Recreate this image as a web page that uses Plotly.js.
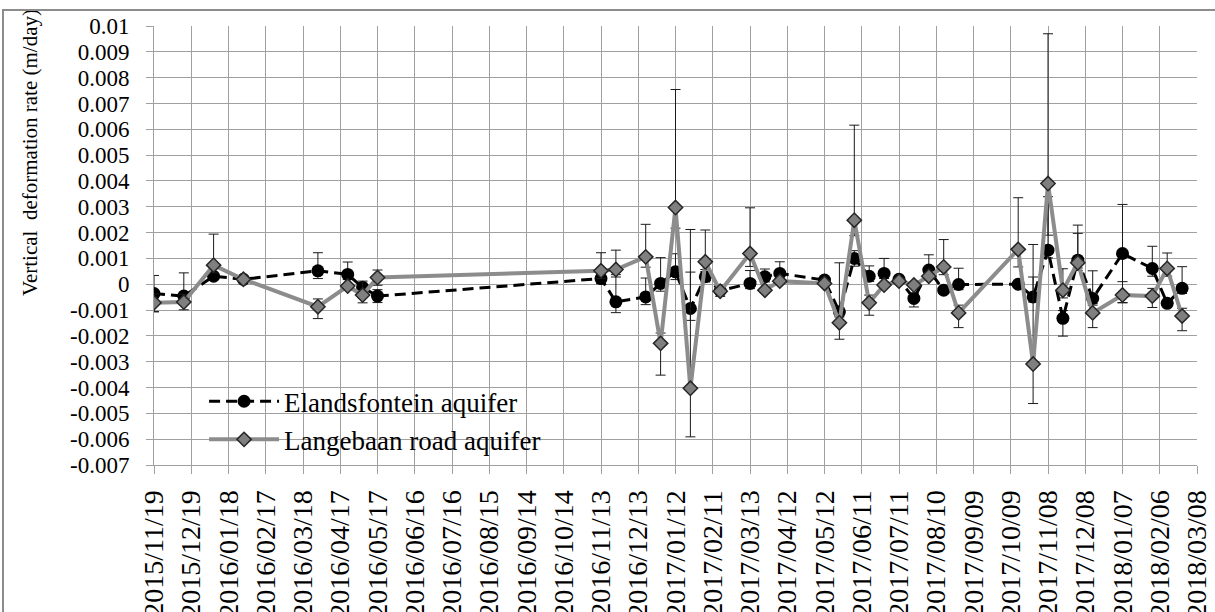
<!DOCTYPE html>
<html>
<head>
<meta charset="utf-8">
<script src="https://cdn.plot.ly/plotly-3.0.1.min.js"></script>
<style>
  html, body { margin: 0; padding: 0; background: #fff; overflow: hidden; }
  #chart { width: 1215px; height: 612px; }
  #frame { position: absolute; left: 2px; top: 9px; width: 1230px; height: 700px;
           border: 2px solid #8c8c8c; pointer-events: none; box-sizing: border-box; }
</style>
</head>
<body>
<div id="chart"></div>
<div id="frame"></div>
<script>
const dates = [
  '2015-11-19','2015-12-13','2016-01-06','2016-01-30','2016-03-30','2016-04-23','2016-05-05','2016-05-17',
  '2016-11-13','2016-11-25','2016-12-19','2016-12-31','2017-01-12','2017-01-24','2017-02-05','2017-02-17',
  '2017-03-13','2017-03-25','2017-04-06','2017-05-12','2017-05-24','2017-06-05','2017-06-17','2017-06-29',
  '2017-07-11','2017-07-23','2017-08-04','2017-08-16','2017-08-28','2017-10-15','2017-10-27','2017-11-08',
  '2017-11-20','2017-12-02','2017-12-14','2018-01-07','2018-01-31','2018-02-12','2018-02-24'
];
const elands = [
  -0.00036,-0.00046,0.00031,0.00019,0.00052,0.00038,-0.00012,-0.00046,
  0.00022,-0.00068,-0.00049,0.00003,0.00048,-0.00094,0.00029,-0.00025,
  0.00003,0.00029,0.00042,0.00016,-0.00107,0.00100,0.00031,0.00042,
  0.00019,-0.00055,0.00055,-0.00023,-0.00001,0.00000,-0.00049,0.00132,
  -0.00132,0.00093,-0.00055,0.00119,0.00061,-0.00074,-0.00016
];
const elandsErrUp = [
  0.0007,0.0009,0,0,0.0007,0.00048,0,0.00025,
  0.0002,0.00096,0.00073,0.0010,0.0007,0.00306,0.0002,0,
  0.0005,0.0003,0.00045,0,0.0019,0.0003,0.0004,0.00058,
  0,0.0002,0.00059,0,0.00063,0,0.00203,0.00207,
  0.0003,0.00136,0.00107,0.0019,0.00086,0,0.00084
];
const elandsErrDown = [
  0.0007,0.0003,0,0,0.0003,0.0002,0,0.00025,
  0.0002,0.00042,0.0003,0.0003,0.0003,0.00046,0.0002,0,
  0.0002,0.0002,0.0002,0,0.0002,0.0003,0.0002,0.0002,
  0,0.00033,0.0002,0,0.0002,0,0.0002,0.0003,
  0.00069,0.0003,0.0002,0.0019,0.0003,0,0.0002
];
const langebaan = [
  -0.00072,-0.00069,0.00074,0.00019,-0.00087,-0.00007,-0.00042,0.00026,
  0.00052,0.00057,0.00106,-0.00229,0.00297,-0.00403,0.00087,-0.00027,
  0.00119,-0.00023,0.00012,0.00003,-0.00149,0.00248,-0.00072,-0.00003,
  0.00012,-0.00003,0.00031,0.00067,-0.00111,0.00135,-0.00309,0.00390,
  -0.00023,0.00083,-0.00111,-0.00042,-0.00046,0.00061,-0.00123
];
const langebaanErrUp = [
  0.00035,0.0003,0.0012,0,0.0003,0,0.00054,0.00029,
  0.0007,0.00075,0.00126,0.0004,0.00457,0.0045,0.00123,0.0002,
  0.00177,0,0,0,0.0003,0.00368,0.0003,0,
  0,0,0,0.00106,0.0003,0.0020,0.00337,0.0058,
  0.00083,0.00114,0.0003,0.00052,0.0003,0.0006,0.0003
];
const langebaanErrDown = [
  0.00035,0.0003,0.0003,0,0.00046,0,0.0003,0.0003,
  0.0003,0.0002,0.0004,0.00123,0.0008,0.00188,0.0003,0.0002,
  0.0005,0,0,0,0.00064,0.0006,0.00048,0,
  0,0,0,0.0003,0.00057,0.00068,0.00153,0.0020,
  0.0003,0.0003,0.00057,0.0003,0.00044,0.0003,0.00057
];
const xTickLabels = [
  '2015/11/19','2015/12/19','2016/01/18','2016/02/17','2016/03/18','2016/04/17','2016/05/17','2016/06/16',
  '2016/07/16','2016/08/15','2016/09/14','2016/10/14','2016/11/13','2016/12/13','2017/01/12','2017/02/11',
  '2017/03/13','2017/04/12','2017/05/12','2017/06/11','2017/07/11','2017/08/10','2017/09/09','2017/10/09',
  '2017/11/08','2017/12/08','2018/01/07','2018/02/06','2018/03/08'
];
const yTickVals = [0.01,0.009,0.008,0.007,0.006,0.005,0.004,0.003,0.002,0.001,0,
  -0.001,-0.002,-0.003,-0.004,-0.005,-0.006,-0.007];
const yTickLabels = ['0.01','0.009','0.008','0.007','0.006','0.005','0.004','0.003','0.002','0.001','0',
  '-0.001','-0.002','-0.003','-0.004','-0.005','-0.006','-0.007'];
const yTitle = 'Vertical  deformation rate (m/day)';

const FONT = '"Liberation Serif", "Times New Roman", Times, serif';

const traces = [
  {
    x: dates, y: elands, name: 'Elandsfontein aquifer', type: 'scatter', mode: 'lines+markers',
    line: { color: '#000000', width: 3, dash: '11px,6px' },
    marker: { symbol: 'circle', size: 13, color: '#000000' },
    error_y: { type: 'data', symmetric: false, array: elandsErrUp, arrayminus: elandsErrDown,
               color: '#1a1a1a', thickness: 1, width: 5 }
  },
  {
    x: dates, y: langebaan, name: 'Langebaan road aquifer', type: 'scatter', mode: 'lines+markers',
    line: { color: '#8c8c8c', width: 4 },
    marker: { symbol: 'diamond', size: 11, color: '#7f7f7f', line: { color: '#262626', width: 1.5 } },
    error_y: { type: 'data', symmetric: false, array: langebaanErrUp, arrayminus: langebaanErrDown,
               color: '#1a1a1a', thickness: 1, width: 5 }
  }
];

const layout = {
  width: 1215, height: 612,
  margin: { l: 154, r: 18, t: 26, b: 147 },
  paper_bgcolor: '#ffffff', plot_bgcolor: '#ffffff',
  font: { family: FONT, color: '#000000' },
  showlegend: true,
  legend: {
    x: 0.048, y: 0.2, xanchor: 'left', yanchor: 'top',
    bgcolor: 'rgba(0,0,0,0)', borderwidth: 0,
    font: { family: FONT, size: 27, color: '#000000' },
    itemwidth: 70
  },
  shapes: [{
    type: 'rect', xref: 'paper', yref: 'paper', layer: 'between',
    x0: 0.0192, x1: 0.4228, y0: 0.0228, y1: 0.1868,
    fillcolor: '#ffffff', line: { width: 0 }
  }],
  annotations: [{
    text: yTitle, xref: 'paper', yref: 'paper', x: -0.119, y: 0.713,
    xanchor: 'center', yanchor: 'middle', textangle: -90, showarrow: false,
    font: { family: FONT, size: 21, color: '#000000' }
  }],
  xaxis: {
    type: 'date',
    range: ['2015-11-19', '2018-03-08'],
    tickmode: 'array',
    tickvals: xTickLabels.map(s => s.replace(/\//g, '-')),
    ticktext: xTickLabels,
    tickangle: -90,
    tickfont: { family: FONT, size: 28, color: '#000000' },
    ticks: 'outside', ticklen: 8, tickcolor: '#a0a0a0', tickwidth: 1,
    ticklabelstandoff: 5,
    showgrid: true, gridcolor: '#a0a0a0', gridwidth: 1,
    showline: true, linecolor: '#a0a0a0', linewidth: 1,
    zeroline: false, automargin: false, fixedrange: true
  },
  yaxis: {
    range: [-0.007, 0.01],
    tickmode: 'array',
    tickvals: yTickVals,
    ticktext: yTickLabels,
    tickfont: { family: FONT, size: 23, color: '#000000' },
    ticks: 'outside', ticklen: 7, tickcolor: '#a0a0a0', tickwidth: 1,
    ticklabelstandoff: 12,
    showgrid: true, gridcolor: '#a0a0a0', gridwidth: 1,
    showline: true, linecolor: '#a0a0a0', linewidth: 1,
    zeroline: false, automargin: false, fixedrange: true
  }
};

Plotly.newPlot('chart', traces, layout, { displayModeBar: false, staticPlot: true });
</script>
</body>
</html>
